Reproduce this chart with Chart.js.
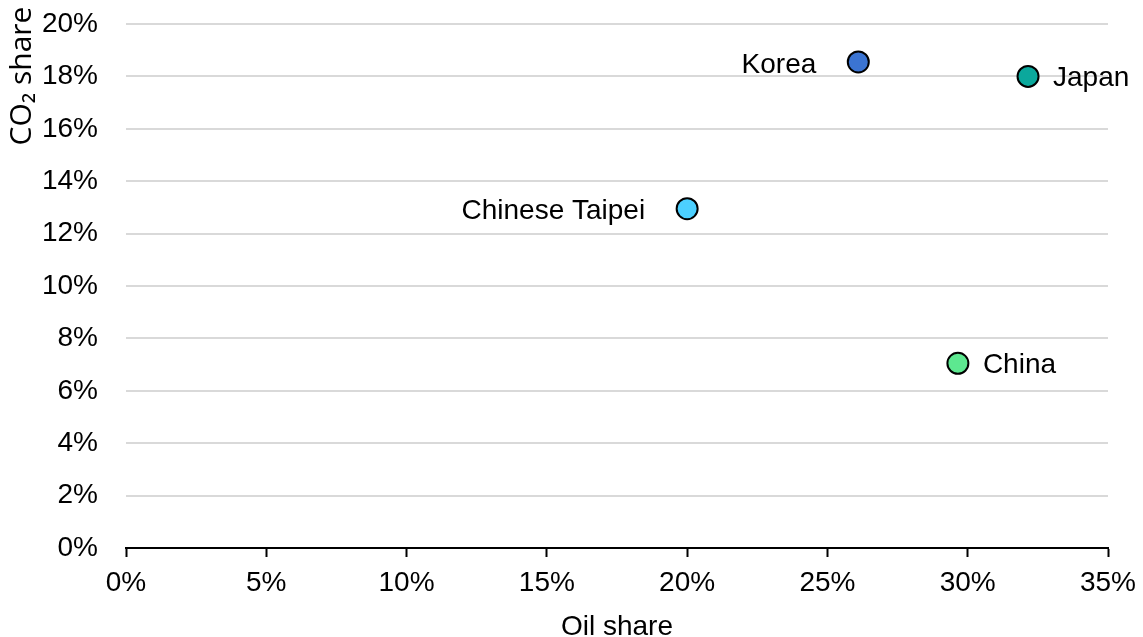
<!DOCTYPE html>
<html>
<head>
<meta charset="utf-8">
<script src="https://cdn.jsdelivr.net/npm/chart.js@4"></script>
<style>
  html, body { margin: 0; padding: 0; background: #fff; }
  #wrap { width: 1143px; height: 637px; }
</style>
</head>
<body>
<div id="wrap"><canvas id="grafiek" width="1143" height="637"></canvas></div>
<script>
const LANDEN = ['Korea', 'Japan', 'Chinese Taipei', 'China'];
const OLIE_AANDEEL = [26.1, 32.15, 20.0, 29.65];
const CO2_AANDEEL = [18.55, 18.0, 12.95, 7.05];
const KLEUREN = ['#3B74D2', '#0BA89C', '#4CD0FF', '#5DE890'];
const LABEL_KANT = ['links', 'rechts', 'links', 'rechts'];
const Y_TITEL = 'CO\u2082 share';

const FONT = '"Liberation Sans", Arial, sans-serif';

// labels naast de punten en de y-titel bovenaan links
const puntLabels = {
  id: 'puntLabels',
  afterDatasetsDraw(chart) {
    const ctx = chart.ctx;
    const meta = chart.getDatasetMeta(0);
    ctx.save();
    ctx.font = '28px ' + FONT;
    ctx.fillStyle = '#000';
    ctx.textBaseline = 'middle';
    meta.data.forEach((pt, i) => {
      if (LABEL_KANT[i] === 'links') {
        ctx.textAlign = 'right';
        ctx.fillText(LANDEN[i], pt.x - 42, pt.y + 3);
      } else {
        ctx.textAlign = 'left';
        ctx.fillText(LANDEN[i], pt.x + 25, pt.y + 2);
      }
    });
    ctx.translate(22, 76);
    ctx.rotate(-Math.PI / 2);
    ctx.textAlign = 'center';
    ctx.font = '30px "Open Sans", sans-serif';
    ctx.fillText(Y_TITEL, 0, 0);
    ctx.restore();
  }
};

new Chart(document.getElementById('grafiek'), {
  type: 'scatter',
  data: {
    datasets: [{
      data: OLIE_AANDEEL.map((x, i) => ({ x, y: CO2_AANDEEL[i] })),
      backgroundColor: KLEUREN,
      borderColor: '#000',
      borderWidth: 2,
      pointRadius: 10.5,
      pointHoverRadius: 10.5,
    }]
  },
  options: {
    responsive: false,
    animation: false,
    layout: { padding: { top: 24, right: 35, left: 0, bottom: 0 } },
    plugins: { legend: { display: false }, tooltip: { enabled: false } },
    scales: {
      x: {
        min: 0, max: 35,
        ticks: { stepSize: 5, color: '#000', font: { size: 28, family: FONT }, padding: 9, callback: v => v + '%' },
        grid: { drawOnChartArea: false, drawTicks: true, tickLength: 9, tickColor: '#000', tickWidth: 2 },
        border: { color: '#000', width: 2 },
        title: { display: true, text: 'Oil share', color: '#000', font: { size: 28, family: FONT }, padding: { top: 0, bottom: -7 } },
        afterFit(s) { s.height = 89; s.paddingLeft = 0; s.paddingRight = 0; }
      },
      y: {
        min: 0, max: 20,
        ticks: { stepSize: 2, color: '#000', font: { size: 28, family: FONT }, padding: 28, callback: v => v + '%' },
        grid: { color: '#d9d9d9', lineWidth: 2, drawTicks: false },
        border: { display: false },
        // vaste breedte en geen extra ruimte boven de bovenste label
        afterFit(s) { s.width = 126; s.paddingTop = 0; }
      }
    }
  },
  plugins: [puntLabels]
});
</script>
</body>
</html>
